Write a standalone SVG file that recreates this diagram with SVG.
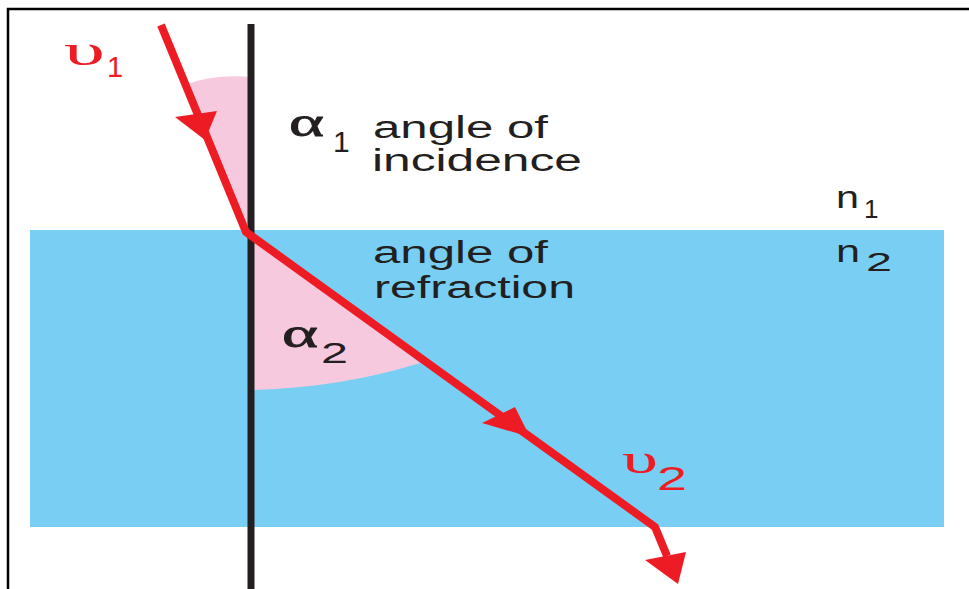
<svg xmlns="http://www.w3.org/2000/svg" width="969" height="589" viewBox="0 0 969 589">
<style>
.lbl{font-family:"Liberation Sans",Arial,sans-serif;fill:#231F20;}
.sym{font-family:"Liberation Serif","Times New Roman",serif;}
.red{fill:#ED1C24;}
.dark{fill:#231F20;stroke:#231F20;stroke-width:0.8;}
.ray{fill:none;stroke:#ED1C24;stroke-width:8;stroke-linejoin:round;}
.head{fill:#ED1C24;}
</style>
<rect width="969" height="589" fill="#ffffff"/>
<path d="M8,589 L8,9 L969,9" fill="none" stroke="#000" stroke-width="2.5"/>
<g id="medium2">
<rect x="30" y="230" width="914" height="297" fill="#78CFF3"/>
</g>
<g id="angle1">
<path d="M251,232 L185,85 Q212,74 251,77 Z" fill="#F7C9DE"/>
</g>
<g id="angle2">
<path d="M251,232 L420,363 Q340,388 251,390 Z" fill="#F7C9DE"/>
</g>
<g id="normal">
<line x1="251" y1="24" x2="251" y2="589" stroke="#231F20" stroke-width="7"/>
</g>
<g id="connectors">
<path class="ray" d="M161,25 L246,232 L655,527 L667,556"/>
<polygon class="head" points="175,117 217,111 205,140"/>
<polygon class="head" points="482,423 515,407 530,437"/>
<polygon class="head" points="645,560 686,552 678,584"/>
</g>
<g id="labels">
<text class="sym red" x="64" y="65" font-size="44" textLength="41" lengthAdjust="spacingAndGlyphs">υ</text>
<text class="lbl red" x="107" y="77" font-size="29" style="fill:#ED1C24">1</text>
<text class="sym dark" x="289" y="136" font-size="42" textLength="35" lengthAdjust="spacingAndGlyphs">α</text>
<text class="lbl" x="333" y="152" font-size="30">1</text>
<text class="lbl" x="373" y="138" font-size="31" textLength="175" lengthAdjust="spacingAndGlyphs">angle of</text>
<text class="lbl" x="372" y="171" font-size="31" textLength="210" lengthAdjust="spacingAndGlyphs">incidence</text>
<text class="lbl" x="373" y="263" font-size="31" textLength="175" lengthAdjust="spacingAndGlyphs">angle of</text>
<text class="lbl" x="374" y="298" font-size="31" textLength="201" lengthAdjust="spacingAndGlyphs">refraction</text>
<text class="sym dark" x="282" y="347" font-size="42" textLength="36" lengthAdjust="spacingAndGlyphs">α</text>
<text class="lbl" x="321" y="363" font-size="30" textLength="27" lengthAdjust="spacingAndGlyphs">2</text>
<text class="sym red" x="622" y="473" font-size="42" textLength="36" lengthAdjust="spacingAndGlyphs">υ</text>
<text class="lbl" x="657" y="490" font-size="33" textLength="30" lengthAdjust="spacingAndGlyphs" style="fill:#ED1C24">2</text>
<text class="lbl" x="836" y="208" font-size="31" textLength="23" lengthAdjust="spacingAndGlyphs">n</text>
<text class="lbl" x="864" y="218" font-size="26">1</text>
<text class="lbl" x="836" y="262" font-size="31" textLength="24" lengthAdjust="spacingAndGlyphs">n</text>
<text class="lbl" x="866" y="271" font-size="26" textLength="26" lengthAdjust="spacingAndGlyphs">2</text>
</g>
</svg>
